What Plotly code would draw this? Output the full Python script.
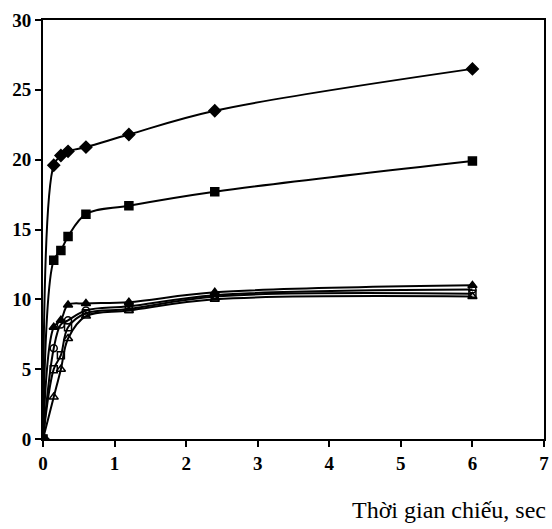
import plotly.graph_objects as go

time_s = [0, 0.15, 0.25, 0.35, 0.6, 1.2, 2.4, 6]

s_diamond = [0, 19.6, 20.3, 20.6, 20.9, 21.8, 23.5, 26.5]
s_square = [0, 12.8, 13.5, 14.5, 16.1, 16.7, 17.7, 19.9]
s_triangle = [0, 8.0, 8.5, 9.6, 9.7, 9.8, 10.5, 11.0]
s_circle = [0, 6.5, 8.2, 8.5, 9.2, 9.5, 10.3, 10.7]
s_open_square = [0, 5.0, 6.0, 8.0, 9.0, 9.3, 10.2, 10.4]
s_open_triangle = [0, 3.0, 5.0, 7.2, 8.8, 9.2, 10.0, 10.2]

series = [
    (s_diamond, "diamond", 9),
    (s_square, "square", 8),
    (s_triangle, "triangle-up", 8),
    (s_circle, "circle-open", 7),
    (s_open_square, "square-open", 7),
    (s_open_triangle, "triangle-up-open", 8),
]

fig = go.Figure()
for ys, sym, sz in series:
    fig.add_trace(go.Scatter(
        x=time_s, y=ys, mode="lines+markers",
        line=dict(color="black", width=2, shape="spline", smoothing=1.0),
        marker=dict(symbol=sym, size=sz, color="black",
                    line=dict(color="black", width=1.5)),
        showlegend=False,
    ))

axis_common = dict(
    showline=True, linecolor="black", linewidth=2, mirror=True,
    ticks="outside", ticklen=6, tickcolor="black", tickwidth=1.5,
    showgrid=False, zeroline=False, ticklabeloverflow="allow",
    tickfont=dict(family="Liberation Serif", size=19, color="black", weight="bold"),
)

fig.update_xaxes(range=[0, 7], dtick=1, **axis_common)
fig.update_yaxes(range=[0, 30], dtick=5, **axis_common)

fig.add_annotation(
    text="Thời gian chiếu, sec", xref="paper", yref="paper",
    x=0.81, y=-0.169, xanchor="center", yanchor="middle", showarrow=False,
    font=dict(family="Liberation Serif", size=24, color="black"),
)

fig.update_layout(
    width=552, height=529,
    margin=dict(l=43, r=8, t=20, b=90, autoexpand=False),
    plot_bgcolor="white", paper_bgcolor="white",
)

fig.write_html(
    "out.html",
    config={"displayModeBar": False},
    post_script="document.body.style.margin='0';document.body.style.overflow='hidden';",
)
